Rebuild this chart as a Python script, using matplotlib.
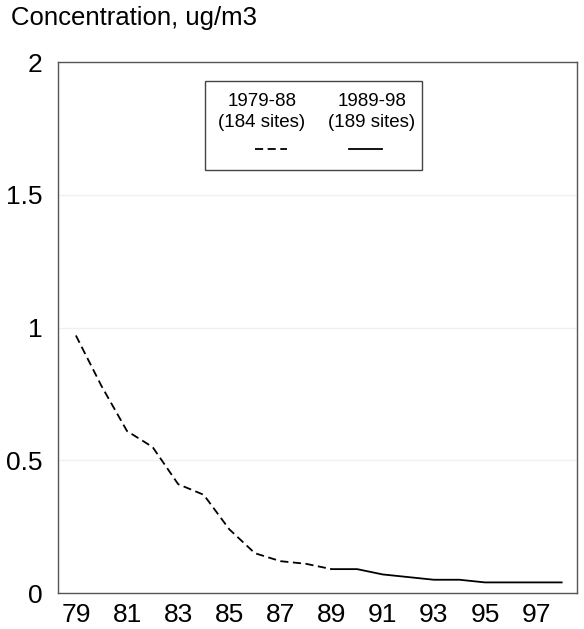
import matplotlib
matplotlib.use("Agg")
import matplotlib.pyplot as plt
from matplotlib.patches import Rectangle
from matplotlib.lines import Line2D

plt.rcParams['font.family'] = ['Liberation Sans', 'DejaVu Sans']

# -----------------------
# DATA
# -----------------------
years_early = [79, 80, 81, 82, 83, 84, 85, 86, 87, 88, 89]
conc_early = [0.97, 0.78, 0.61, 0.55, 0.41, 0.37, 0.24, 0.15, 0.12, 0.11, 0.09]

years_late = [89, 90, 91, 92, 93, 94, 95, 96, 97, 98]
conc_late = [0.09, 0.09, 0.07, 0.06, 0.05, 0.05, 0.04, 0.04, 0.04, 0.04]

x_ticks = [79, 81, 83, 85, 87, 89, 91, 93, 95, 97]
y_ticks = [0, 0.5, 1, 1.5, 2]
y_labels = ["0", "0.5", "1", "1.5", "2"]

legend_years = ["1979-88", "1989-98"]
legend_sites = ["(184 sites)", "(189 sites)"]

# -----------------------
# FIGURE
# -----------------------
fig = plt.figure(figsize=(5.84, 6.29), dpi=100)
ax = fig.add_axes([0.0993, 0.0572, 0.8887, 0.8442])

DASH = (4.5, 2.5)
ax.plot(years_early, conc_early, color="black", lw=1.3, dashes=DASH)
ax.plot(years_late, conc_late, color="black", lw=1.3)

ax.set_xlim(78.3, 98.6)
ax.set_ylim(0, 2)
ax.set_xticks(x_ticks)
ax.set_yticks(y_ticks)
ax.set_yticklabels(y_labels)
ax.tick_params(length=0, labelsize=19, colors="black")
ax.tick_params(axis="y", pad=11)
ax.tick_params(axis="x", pad=7)
ax.grid(axis="y", color="#f0f0f0", lw=1)
ax.set_axisbelow(True)
for s in ax.spines.values():
    s.set_color("#555555")
    s.set_linewidth(1)

fig.text(0.019, 0.971, "Concentration, ug/m3", fontsize=18.5, ha="left", va="center")

# -----------------------
# LEGEND BOX
# -----------------------
ax.add_patch(Rectangle((0.283, 0.796), 0.419, 0.168, transform=ax.transAxes,
                       fill=False, edgecolor="#444444", lw=1))
cols = [0.393, 0.605]
for i, cx in enumerate(cols):
    ax.text(cx, 0.926, legend_years[i], transform=ax.transAxes,
            ha="center", va="center", fontsize=13.5)
    ax.text(cx, 0.887, legend_sites[i], transform=ax.transAxes,
            ha="center", va="center", fontsize=13.5)
ax.add_line(Line2D([0.380, 0.441], [0.836, 0.836], transform=ax.transAxes,
                   color="black", lw=1.3, dashes=DASH))
ax.add_line(Line2D([0.561, 0.624], [0.836, 0.836], transform=ax.transAxes,
                   color="black", lw=1.3))

fig.savefig("out.png", dpi=100)
